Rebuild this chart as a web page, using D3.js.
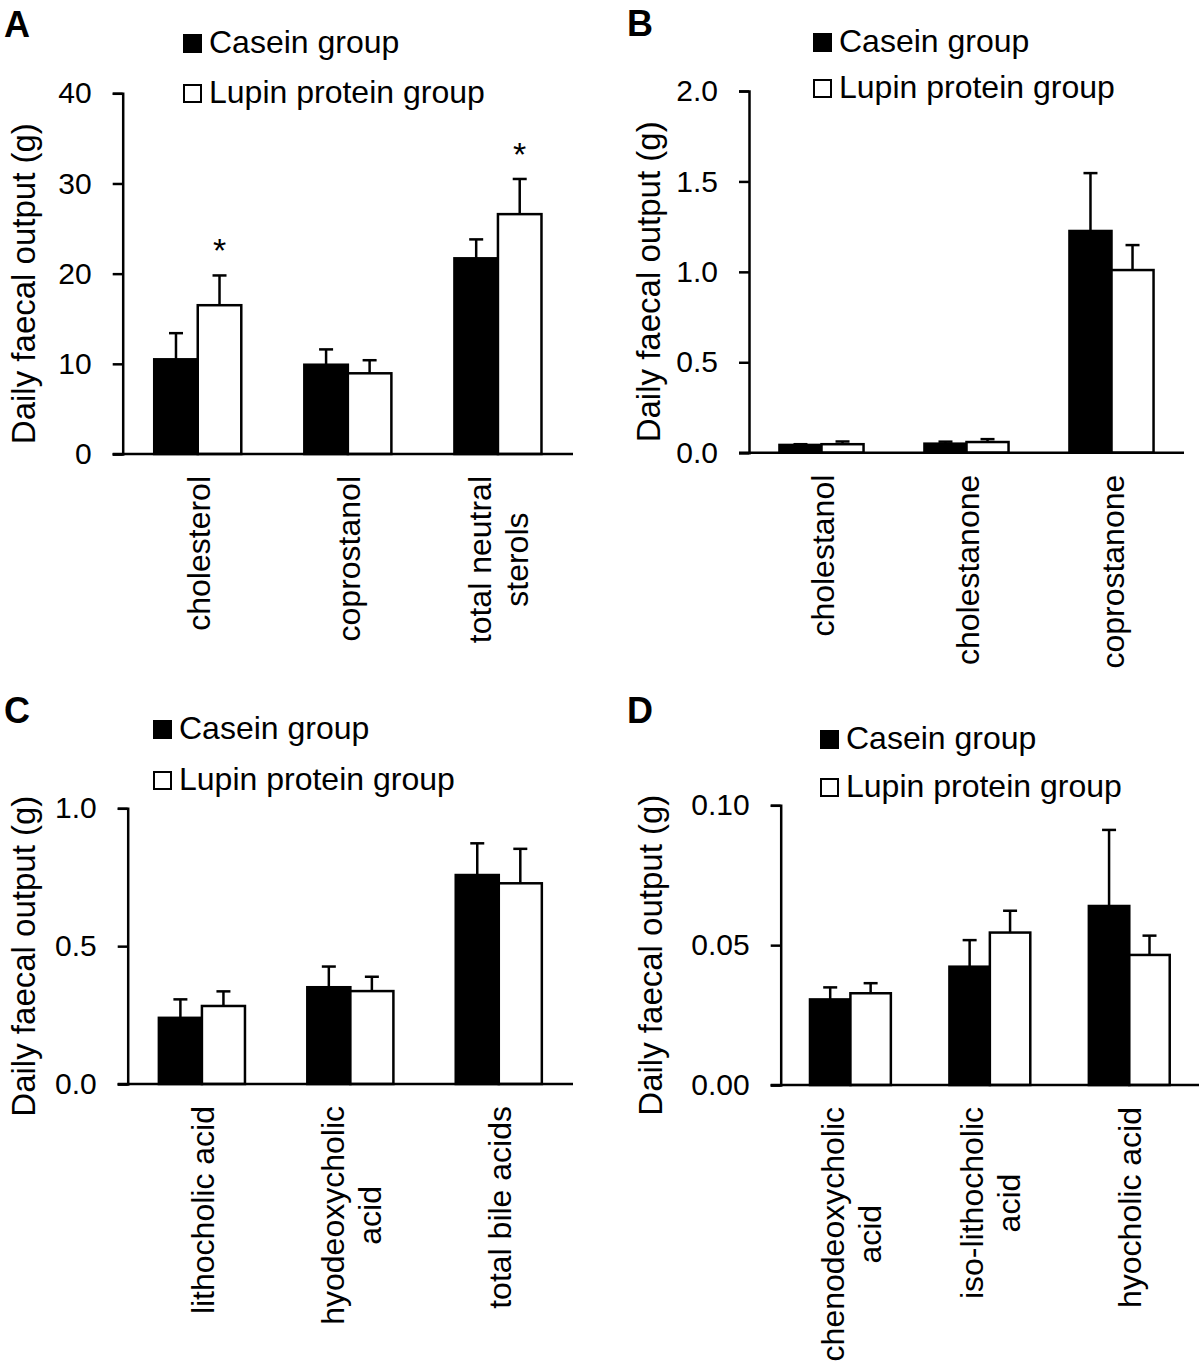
<!DOCTYPE html>
<html>
<head>
<meta charset="utf-8">
<script src="https://cdn.jsdelivr.net/npm/d3@7"></script>
<style>
  html, body { margin: 0; padding: 0; background: #fff; }
  svg { display: block; }
  text { font-family: "Liberation Sans", Arial, Helvetica, sans-serif; fill: #000; }
</style>
</head>
<body>
<svg id="chart" width="1200" height="1364"></svg>
<script>
// ---------------- DATA ----------------
const seriesNames = ["Casein group", "Lupin protein group"];

// Panel A
const catsA = ["cholesterol", "coprostanol", "total neutral\nsterols"];
const caseinA = [10.5, 9.9, 21.7];
const caseinErrA = [2.9, 1.7, 2.1];
const lupinA = [16.5, 8.95, 26.6];
const lupinErrA = [3.3, 1.45, 3.9];
const lupinSigA = [true, false, true];
const ticksA = [0, 10, 20, 30, 40];

// Panel B
const catsB = ["cholestanol", "cholestanone", "coprostanone"];
const caseinB = [0.043, 0.05, 1.226];
const caseinErrB = [0.004, 0.011, 0.32];
const lupinB = [0.047, 0.059, 1.01];
const lupinErrB = [0.015, 0.016, 0.138];
const lupinSigB = [false, false, false];
const ticksB = [0, 0.5, 1.0, 1.5, 2.0];

// Panel C
const catsC = ["lithocholic acid", "hyodeoxycholic\nacid", "total bile acids"];
const caseinC = [0.24, 0.351, 0.758];
const caseinErrC = [0.067, 0.075, 0.115];
const lupinC = [0.283, 0.337, 0.728];
const lupinErrC = [0.053, 0.052, 0.125];
const lupinSigC = [false, false, false];
const ticksC = [0, 0.5, 1.0];

// Panel D
const catsD = ["chenodeoxycholic\nacid", "iso-lithocholic\nacid", "hyocholic acid"];
const caseinD = [0.0306, 0.0423, 0.064];
const caseinErrD = [0.0043, 0.0095, 0.0272];
const lupinD = [0.0328, 0.0545, 0.0465];
const lupinErrD = [0.0036, 0.0078, 0.0069];
const lupinSigD = [false, false, false];
const ticksD = [0, 0.05, 0.10];

const yTitle = "Daily faecal output (g)";

// ---------------- LAYOUT ----------------
const LABEL_FONT = 32;
const LEGEND_FONT = 32;
const TITLE_FONT = 33;
const panels = [
  { letter: "A", lx: 4, ly: 37, cats: catsA, cas: caseinA, casE: caseinErrA, lup: lupinA, lupE: lupinErrA, sig: lupinSigA,
    ticks: ticksA, max: 40, fmt: d3.format("d"),
    x0: 122.7, x1: 573, yTop: 93.3, yBot: 454, titleX: 35,
    legX: 183, legY: [53, 103] },
  { letter: "B", lx: 627, ly: 36, cats: catsB, cas: caseinB, casE: caseinErrB, lup: lupinB, lupE: lupinErrB, sig: lupinSigB,
    ticks: ticksB, max: 2.0, fmt: d3.format(".1f"),
    x0: 749, x1: 1184, yTop: 91, yBot: 452.7, titleX: 660,
    legX: 813, legY: [52, 98] },
  { letter: "C", lx: 4, ly: 723, cats: catsC, cas: caseinC, casE: caseinErrC, lup: lupinC, lupE: lupinErrC, sig: lupinSigC,
    ticks: ticksC, max: 1.0, fmt: d3.format(".1f"),
    x0: 127.7, x1: 573, yTop: 808.3, yBot: 1084, titleX: 35,
    legX: 153, legY: [739, 790] },
  { letter: "D", lx: 627, ly: 723, cats: catsD, cas: caseinD, casE: caseinErrD, lup: lupinD, lupE: lupinErrD, sig: lupinSigD,
    ticks: ticksD, max: 0.10, fmt: d3.format(".2f"),
    x0: 780.7, x1: 1199, yTop: 805.3, yBot: 1085, titleX: 662,
    legX: 820, legY: [749, 797] }
];

const svg = d3.select("#chart");
const SW = 2.5;

panels.forEach(p => {
  const g = svg.append("g");
  const y = d3.scaleLinear().domain([0, p.max]).range([p.yBot, p.yTop]);
  const x = d3.scaleBand().domain(d3.range(p.cats.length)).range([p.x0, p.x1])
    .paddingInner(0.42).paddingOuter(0.21);
  const xs = d3.scaleBand().domain([0, 1]).range([0, x.bandwidth()]);

  // panel letter
  g.append("text").attr("x", p.lx).attr("y", p.ly)
    .attr("font-size", 36).attr("font-weight", "bold").text(p.letter);

  // legend
  seriesNames.forEach((s, i) => {
    const by = p.legY[i];
    g.append("rect").attr("x", p.legX + 1).attr("y", by - 18).attr("width", 17).attr("height", 17)
      .attr("fill", i === 0 ? "#000" : "#fff").attr("stroke", "#000").attr("stroke-width", 2);
    g.append("text").attr("x", p.legX + 26).attr("y", by).attr("font-size", LEGEND_FONT).text(s);
  });

  // y axis
  const ax = g.append("g").attr("transform", `translate(${p.x0},0)`)
    .call(d3.axisLeft(y).tickValues(p.ticks).tickFormat(p.fmt).tickSizeOuter(0).tickSize(10).tickPadding(21));
  ax.select(".domain").attr("stroke", "#000").attr("stroke-width", SW);
  ax.selectAll(".tick line").attr("stroke", "#000").attr("stroke-width", SW);
  ax.selectAll(".tick text").attr("font-size", 30).attr("font-family", '"Liberation Sans", Arial, sans-serif').attr("fill", "#000");

  // y title
  g.append("text")
    .attr("transform", `translate(${p.titleX},${(p.yTop + p.yBot) / 2 + 10}) rotate(-90)`)
    .attr("text-anchor", "middle").attr("font-size", TITLE_FONT).text(yTitle);

  // bars
  const series = [
    { vals: p.cas, errs: p.casE, fill: "#000", sig: null },
    { vals: p.lup, errs: p.lupE, fill: "#fff", sig: p.sig }
  ];
  series.forEach((s, si) => {
    s.vals.forEach((v, ci) => {
      const bx = x(ci) + xs(si);
      const bw = xs.bandwidth();
      const cx = bx + bw / 2;
      const eTop = y(v + s.errs[ci]);
      // error bar (upper only)
      g.append("line").attr("x1", cx).attr("x2", cx).attr("y1", y(v)).attr("y2", eTop)
        .attr("stroke", "#000").attr("stroke-width", SW);
      g.append("line").attr("x1", cx - 7).attr("x2", cx + 7).attr("y1", eTop).attr("y2", eTop)
        .attr("stroke", "#000").attr("stroke-width", SW);
      g.append("rect").attr("x", bx).attr("y", y(v)).attr("width", bw).attr("height", y(0) - y(v))
        .attr("fill", s.fill).attr("stroke", "#000").attr("stroke-width", SW);
      if (s.sig && s.sig[ci]) {
        g.append("text").attr("x", cx).attr("y", eTop - 3).attr("text-anchor", "middle")
          .attr("font-size", 34).text("*").attr("dy", "-0.3em");
      }
    });
  });

  // x axis line
  g.append("line").attr("x1", p.x0 - 10).attr("x2", p.x1).attr("y1", p.yBot).attr("y2", p.yBot)
    .attr("stroke", "#000").attr("stroke-width", SW);

  // category labels (rotated)
  p.cats.forEach((c, ci) => {
    const lines = c.split("\n");
    const cx = x(ci) + x.bandwidth() / 2;
    const n = lines.length;
    const texts = lines.map((ln) => g.append("text").attr("font-size", LABEL_FONT)
      .attr("text-anchor", "middle").text(ln));
    const maxLen = d3.max(texts, t => t.node().getComputedTextLength());
    const yc = p.yBot + 22 + maxLen / 2;
    texts.forEach((t, li) => {
      const bxl = cx + 12 + (li - (n - 1) / 2) * 37;
      t.attr("transform", `translate(${bxl},${yc}) rotate(-90)`);
    });
  });
});
</script>
</body>
</html>
